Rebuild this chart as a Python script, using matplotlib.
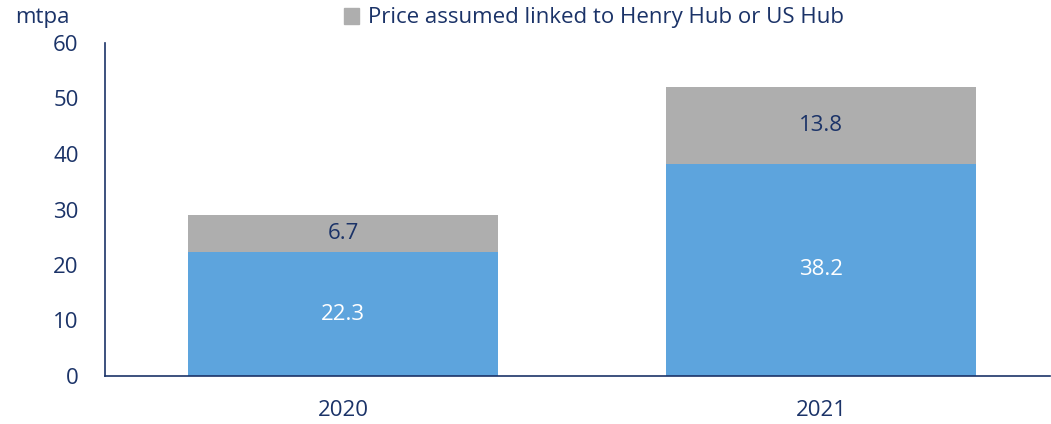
import numpy as np
import matplotlib.pyplot as plt
from matplotlib.patches import Patch

# Data
years = ['2020', '2021']
other_linked = [22.3, 38.2]
henry_hub = [6.7, 13.8]

navy = '#1B3368'
blue = '#5DA4DD'
grey = '#AEAEAE'

plt.rcParams['font.family'] = ['Open Sans', 'DejaVu Sans']
fs = 16

fig = plt.figure(figsize=(10.51, 4.24), dpi=100)
ax = fig.add_axes([105 / 1051, 1 - 376 / 424, 945 / 1051, 333 / 424])

x = np.arange(len(years))
w = 0.649
ax.bar(x, other_linked, width=w, color=blue)
ax.bar(x, henry_hub, width=w, bottom=other_linked, color=grey)

for i in range(len(years)):
    ax.text(x[i], other_linked[i] / 2, f'{other_linked[i]:.1f}', ha='center', va='center',
            color='white', fontsize=fs)
    ax.text(x[i], other_linked[i] + henry_hub[i] / 2, f'{henry_hub[i]:.1f}', ha='center',
            va='center', color=navy, fontsize=fs)

ax.set_xlim(-0.498, 1.479)
ax.set_ylim(0, 60)
ax.set_yticks(range(0, 61, 10))
ax.set_xticks(x)
ax.set_xticklabels(years)
ax.tick_params(length=0, colors=navy, labelsize=fs)
ax.tick_params(axis='y', pad=19)
ax.tick_params(axis='x', pad=17)
for s in ['top', 'right']:
    ax.spines[s].set_visible(False)
for s in ['left', 'bottom']:
    ax.spines[s].set_color(navy)
    ax.spines[s].set_linewidth(1.2)

fig.text(15 / 1051, 1 - 18 / 424, 'mtpa', color=navy, fontsize=fs, va='center', ha='left')

fig.legend(handles=[Patch(color=grey, label='Price assumed linked to Henry Hub or US Hub')],
           loc='center', bbox_to_anchor=(594 / 1051, 1 - 18 / 424), frameon=False,
           handlelength=0.7, handleheight=0.7, handletextpad=0.4, labelcolor=navy, fontsize=fs)

fig.savefig('out.png', dpi=100)
